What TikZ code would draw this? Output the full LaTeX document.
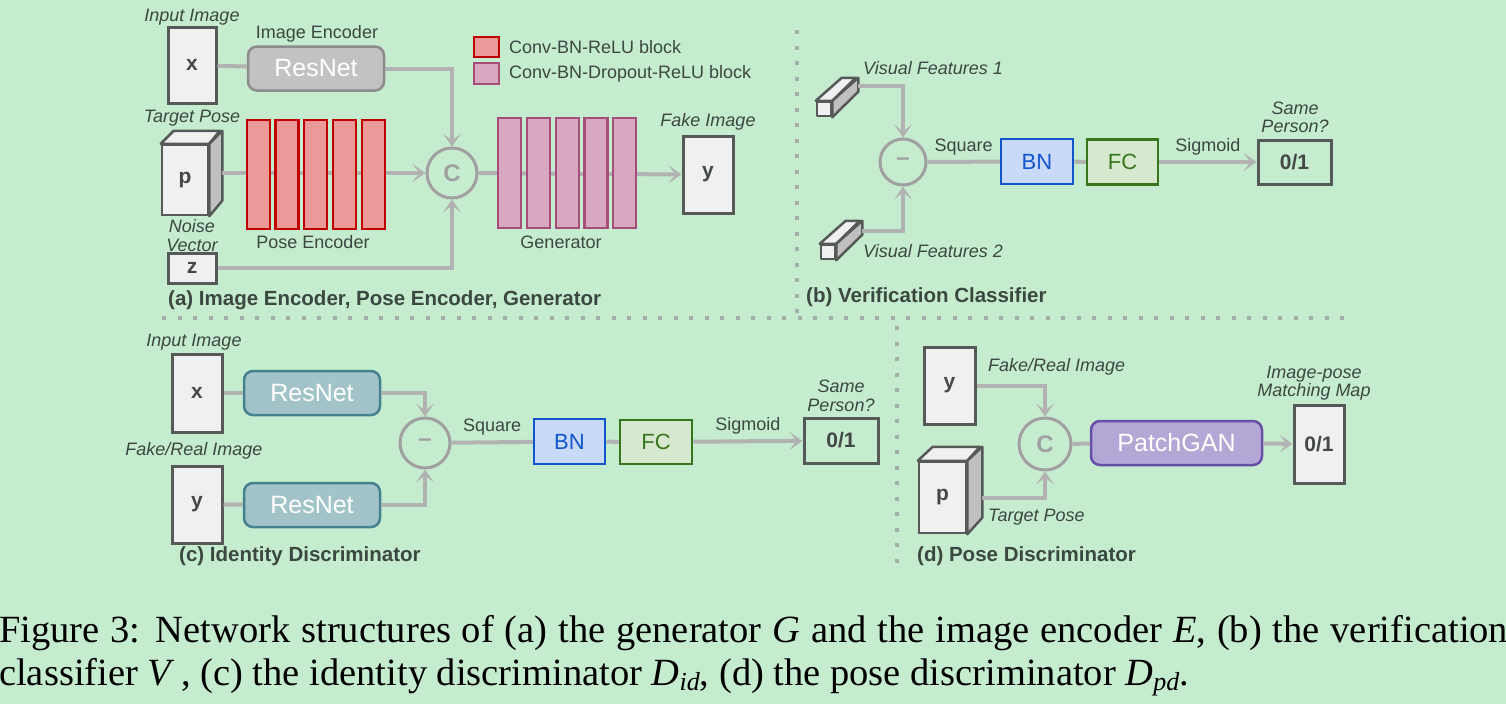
\documentclass[tikz,border=0pt]{standalone}
\usepackage{fontspec}
\setmainfont{Liberation Sans}
\newfontfamily\capfont{Liberation Serif}
\usetikzlibrary{arrows.meta,calc,positioning}

\definecolor{bgcol}{RGB}{198,236,207}
\definecolor{wirecol}{RGB}{178,178,178}
\definecolor{boxline}{RGB}{85,90,88}
\definecolor{imgfill}{RGB}{240,240,242}
\definecolor{sidefill}{RGB}{192,192,192}
\definecolor{txtcol}{RGB}{58,72,64}
\definecolor{convedge}{RGB}{192,0,0}
\definecolor{convfill}{RGB}{236,153,153}
\definecolor{dropedge}{RGB}{166,77,121}
\definecolor{dropfill}{RGB}{216,168,192}
\definecolor{resgfill}{RGB}{194,194,194}
\definecolor{resgedge}{RGB}{140,140,140}
\definecolor{restfill}{RGB}{162,196,201}
\definecolor{restedge}{RGB}{69,129,142}
\definecolor{bnfill}{RGB}{201,218,248}
\definecolor{bnedge}{RGB}{17,85,204}
\definecolor{fcfill}{RGB}{214,232,206}
\definecolor{fcedge}{RGB}{56,118,29}
\definecolor{patchfill}{RGB}{180,167,214}
\definecolor{patchedge}{RGB}{103,78,167}
\definecolor{dotcol}{RGB}{165,175,170}

\tikzset{
  lbl/.style={inner sep=0pt, text=txtcol, font=\fontsize{18}{18.5}\selectfont, align=center},
  ilbl/.style={lbl, font=\fontsize{18}{18.5}\selectfont\itshape},
  ttl/.style={inner sep=0pt, anchor=west, text=txtcol, font=\fontsize{20.5}{22}\selectfont\bfseries},
  imgbox/.style={draw=boxline, fill=imgfill, line width=3pt, inner sep=0pt,
    minimum width=48pt, minimum height=76pt, text=boxline!80!black,
    font=\fontsize{21}{21}\selectfont\bfseries},
  outbox/.style={imgbox, fill=none, font=\fontsize{21}{21}\selectfont\bfseries},
  resbox/.style={rounded corners=9pt, line width=2.5pt, inner sep=0pt,
    minimum width=136pt, minimum height=44pt, text=white,
    font=\fontsize{25}{25}\selectfont},
  convblk/.style={draw=convedge, fill=convfill, line width=2.5pt, inner sep=0pt,
    minimum width=23pt, minimum height=109pt},
  dropblk/.style={draw=dropedge, fill=dropfill, line width=2.5pt, inner sep=0pt,
    minimum width=23pt, minimum height=110pt},
  layer/.style={line width=2.5pt, inner sep=0pt, minimum width=72pt, minimum height=45pt,
    font=\fontsize{22}{22}\selectfont},
  bnbox/.style={layer, draw=bnedge, fill=bnfill, text=bnedge},
  fcbox/.style={layer, draw=fcedge, fill=fcfill, text=fcedge},
  opcirc/.style={circle, draw=wirecol!90!black, line width=3pt, inner sep=0pt,
    minimum size=50pt, text=wirecol!90!black, font=\fontsize{24}{24}\selectfont\bfseries},
  wire/.style={draw=wirecol, line width=4pt},
  arr/.style={wire, -{Stealth[length=13pt,width=18pt,inset=7pt]}},
  dotline/.style={draw=dotcol, line width=4pt, dash pattern=on 4pt off 11.5pt},
  topface/.style={draw=boxline, fill=imgfill, line width=2.5pt, line join=round},
  sideface/.style={draw=boxline, fill=sidefill, line width=2.5pt, line join=round}
}

\begin{document}
\begin{tikzpicture}[x=1pt, y=-1pt]
  \fill[bgcol] (0,0) rectangle (1506,704);
  \useasboundingbox (0,0) rectangle (1506,704);

  % separators
  \draw[dotline] (797,30) -- (797,318);
  \draw[dotline] (162,318) -- (1355,318);
  \draw[dotline] (897,326) -- (897,565);

  % ---------------- (a) generator
  \node[ilbl] (inA) at (192,17) {Input Image};
  \node[imgbox] (xA) at (192,65) {x};
  \node[lbl] (encA) at (317,34) {Image Encoder};
  \node[resbox, draw=resgedge, fill=resgfill] (resA) at (316,68.5) {ResNet};
  \node[ilbl] (tpA) at (192,118) {Target Pose};
  \node[imgbox, line width=2.5pt, minimum width=46pt, minimum height=70pt] (pA) at (185,180) {p};
  \draw[topface] (pA.north west) -- ++(13,-13) -- ++(46,0) -- (pA.north east) -- cycle;
  \draw[sideface] (pA.north east) -- ++(13,-13) -- ++(0,70) -- (pA.south east) -- cycle;
  \node[ilbl] (nzA) at (192,235.5) {Noise\\Vector};
  \node[imgbox, minimum height=30pt] (zA) at (192,268) {z};
  \node[opcirc] (cA) at (452,173) {C};
  \node[imgbox, minimum width=50pt, minimum height=77pt] (yA) at (708,174.5) {y};
  \node[ilbl] (fkA) at (708,122) {Fake Image};

  \draw[wire] (xA) -- (resA);
  \draw[arr] (resA.east) -| (cA.north);
  \draw[arr] ($(pA.east)+(13,-7)$) -- (cA.west);
  \draw[arr] (zA.east) -| (cA.south);
  \draw[arr] (cA.east) -- (yA.west);

  \foreach \i/\xx in {1/258.5, 2/287, 3/315.5, 4/344.5, 5/373.5}
    \node[convblk] (pe\i) at (\xx,174.5) {};
  \foreach \i/\xx in {1/509.5, 2/538.5, 3/567.5, 4/596, 5/624.5}
    \node[dropblk] (ge\i) at (\xx,173) {};
  \node[lbl] (peA) at (313,242) {Pose Encoder};
  \node[lbl] (geA) at (561,242) {Generator};

  \node[convblk, minimum width=25pt, minimum height=20pt] (lg1) at (486.5,47) {};
  \node[lbl, anchor=west] (lt1) at (509,47) {Conv-BN-ReLU block};
  \node[dropblk, minimum width=25pt, minimum height=21pt] (lg2) at (486.5,73.5) {};
  \node[lbl, anchor=west] (lt2) at (509,74) {Conv-BN-Dropout-ReLU block};

  \node[ttl] (tA) at (168,300) {(a) Image Encoder, Pose Encoder, Generator};

  % ---------------- (b) verification classifier
  \node[topface, inner sep=0pt, minimum size=14pt] (vf1) at (824,109) {};
  \draw[topface] (vf1.north west) -- ++(26,-23) -- ++(14,0) -- (vf1.north east) -- cycle;
  \draw[sideface] (vf1.north east) -- ++(26,-23) -- ++(0,14) -- (vf1.south east) -- cycle;
  \node[topface, inner sep=0pt, minimum size=14pt] (vf2) at (828,252) {};
  \draw[topface] (vf2.north west) -- ++(26,-23) -- ++(14,0) -- (vf2.north east) -- cycle;
  \draw[sideface] (vf2.north east) -- ++(26,-23) -- ++(0,14) -- (vf2.south east) -- cycle;
  \node[ilbl, anchor=west] (vl1) at (863,68) {Visual Features 1};
  \node[ilbl, anchor=west] (vl2) at (863,251) {Visual Features 2};
  \node[opcirc, minimum size=46pt] (mB) at (903,162) {--};
  \node[bnbox] (bnB) at (1037,161.5) {BN};
  \node[fcbox, minimum width=71pt] (fcB) at (1122.5,162) {FC};
  \node[outbox, minimum width=73pt, minimum height=44pt] (oB) at (1294.5,162) {0/1};
  \node[ilbl] (spB) at (1295,117.5) {Same\\Person?};

  \draw[arr] ($(vf1.east)+(26,-23)$) -| (mB.north);
  \draw[arr] ($(vf2.east)+(26,-21)$) -| (mB.south);
  \draw[wire] (mB) -- node[lbl, above=5pt] {Square} (bnB);
  \draw[wire] (bnB) -- (fcB);
  \draw[arr] (fcB) -- node[lbl, above=5pt] {Sigmoid} (oB);

  \node[ttl] (tB) at (806,297) {(b) Verification Classifier};

  % ---------------- (c) identity discriminator
  \node[ilbl] (inC) at (194,342) {Input Image};
  \node[imgbox, minimum width=50pt, minimum height=78pt] (xC) at (197,393) {x};
  \node[ilbl] (frC) at (194,451) {Fake/Real Image};
  \node[imgbox, minimum width=50pt, minimum height=77pt] (yC) at (197,504.5) {y};
  \node[resbox, draw=restedge, fill=restfill] (rs1) at (312,393) {ResNet};
  \node[resbox, draw=restedge, fill=restfill] (rs2) at (312,505) {ResNet};
  \node[opcirc] (mC) at (425,443) {--};
  \node[bnbox, minimum width=71pt] (bnC) at (569.5,441.5) {BN};
  \node[fcbox, minimum height=44pt] (fcC) at (656,442) {FC};
  \node[outbox, minimum width=74pt, minimum height=45pt] (oC) at (841,440.5) {0/1};
  \node[ilbl] (spC) at (841,396) {Same\\Person?};

  \draw[wire] (xC) -- (rs1);
  \draw[wire] (yC) -- (rs2);
  \draw[arr] (rs1.east) -| (mC.north);
  \draw[arr] (rs2.east) -| (mC.south);
  \draw[wire] (mC) -- node[lbl, above=5pt] {Square} (bnC);
  \draw[wire] (bnC) -- (fcC);
  \draw[arr] (fcC) -- node[lbl, above=5pt] {Sigmoid} (oC);

  \node[ttl] (tC) at (179,556) {(c) Identity Discriminator};

  % ---------------- (d) pose discriminator
  \node[imgbox, minimum width=51pt, minimum height=77pt] (yD) at (949.5,385.5) {y};
  \node[imgbox, line width=2.5pt, minimum width=47pt, minimum height=71pt] (pD) at (942.5,497.5) {p};
  \draw[topface] (pD.north west) -- ++(15,-14) -- ++(47,0) -- (pD.north east) -- cycle;
  \draw[sideface] (pD.north east) -- ++(15,-14) -- ++(0,71) -- (pD.south east) -- cycle;
  \node[ilbl, anchor=west] (frD) at (988,367) {Fake/Real Image};
  \node[ilbl, anchor=west] (tpD) at (988,517) {Target Pose};
  \node[opcirc, minimum size=52pt] (cD) at (1045,444) {C};
  \node[resbox, draw=patchedge, fill=patchfill, minimum width=171pt] (pg) at (1176.5,443) {PatchGAN};
  \node[imgbox, minimum width=50pt, minimum height=78pt] (oD) at (1319,444) {0/1};
  \node[ilbl] (mmD) at (1314,383) {Image-pose\\Matching Map};

  \draw[arr] (yD.east) -| (cD.north);
  \draw[arr] ($(pD.east)+(15,0)$) -| (cD.south);
  \draw[wire] (cD) -- (pg);
  \draw[arr] (pg) -- (oD);

  \node[ttl] (tD) at (917,556) {(d) Pose Discriminator};

  % ---------------- caption
  \node[inner sep=0pt, anchor=base west, font=\capfont\fontsize{38.5}{43}\selectfont] (cap1) at (-1,642)
    {\makebox[1509pt][s]{Figure 3: Network structures of (a) the generator \textit{G} and the image encoder \textit{E}, (b) the verification}};
  \node[inner sep=0pt, anchor=base west, font=\capfont\fontsize{38.5}{43}\selectfont] (cap2) at (-1,685)
    {classifier \textit{V}\,, (c) the identity discriminator \textit{D}\raisebox{-5pt}{\fontsize{26}{26}\selectfont\textit{id}}, (d) the pose discriminator \textit{D}\raisebox{-5pt}{\fontsize{26}{26}\selectfont\textit{pd}}.};
\end{tikzpicture}
\end{document}
